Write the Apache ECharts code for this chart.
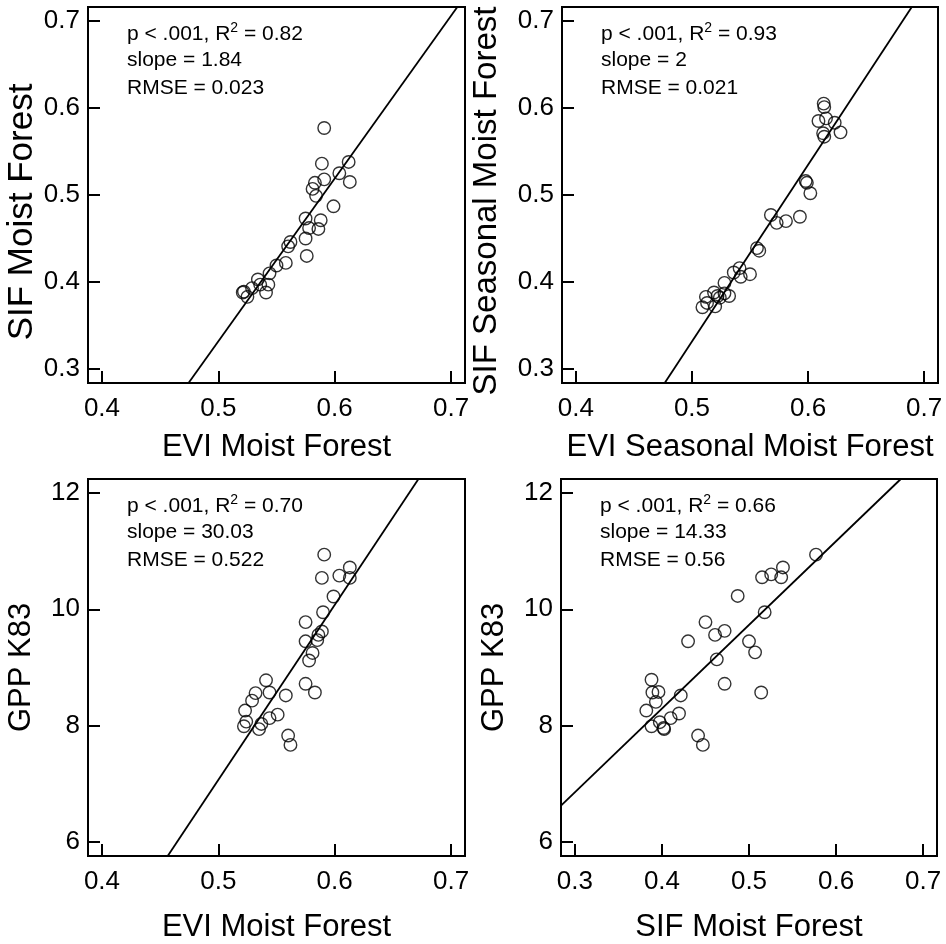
<!DOCTYPE html>
<html>
<head>
<meta charset="utf-8">
<title>SIF / EVI / GPP scatter panels</title>
<script src="https://cdn.jsdelivr.net/npm/echarts@6/dist/echarts.min.js"></script>
<style>
  html, body { margin: 0; padding: 0; background: #fff; }
  #main { width: 946px; height: 944px; }
</style>
</head>
<body>
<div id="main"></div>
<script>
// panel 1: EVI moist forest vs SIF moist forest
var evi1 = [0.591, 0.589, 0.612, 0.604, 0.613, 0.591, 0.583, 0.581, 0.584, 0.599, 0.575, 0.588, 0.578, 0.586, 0.575,
            0.576, 0.562, 0.560, 0.558, 0.550, 0.544, 0.543, 0.534, 0.536, 0.541, 0.529, 0.522, 0.521, 0.525];
var sif1 = [0.577, 0.536, 0.538, 0.525, 0.515, 0.518, 0.514, 0.507, 0.499, 0.487, 0.473, 0.471, 0.462, 0.461, 0.450,
            0.430, 0.446, 0.441, 0.422, 0.419, 0.410, 0.397, 0.403, 0.397, 0.388, 0.393, 0.389, 0.388, 0.383];
// panel 2: EVI seasonal moist forest vs SIF seasonal moist forest
var evi2 = [0.6135, 0.614, 0.609, 0.6155, 0.623, 0.628, 0.613, 0.614, 0.598, 0.599, 0.602, 0.593, 0.568, 0.573, 0.581, 0.556,
            0.558, 0.541, 0.536, 0.542, 0.550, 0.528, 0.528, 0.532, 0.522, 0.519, 0.512, 0.513, 0.509, 0.520, 0.524];
var sif2 = [0.605, 0.601, 0.585, 0.588, 0.583, 0.572, 0.571, 0.567, 0.516, 0.514, 0.502, 0.475, 0.477, 0.468, 0.470, 0.439,
            0.436, 0.416, 0.411, 0.406, 0.409, 0.399, 0.387, 0.384, 0.384, 0.388, 0.383, 0.376, 0.371, 0.372, 0.382];
// panel 3: EVI moist forest vs GPP K83
var evi3 = [0.591, 0.589, 0.604, 0.613, 0.613, 0.599, 0.590, 0.575, 0.589, 0.586, 0.575, 0.585, 0.581, 0.578, 0.575,
            0.583, 0.541, 0.532, 0.544, 0.558, 0.529, 0.523, 0.524, 0.522, 0.537, 0.535, 0.544, 0.551, 0.560, 0.562];
var gpp3 = [10.94, 10.54, 10.58, 10.72, 10.54, 10.22, 9.95, 9.78, 9.62, 9.56, 9.45, 9.47, 9.25, 9.12, 8.72,
            8.57, 8.78, 8.56, 8.57, 8.52, 8.43, 8.26, 8.07, 7.99, 8.03, 7.94, 8.13, 8.19, 7.83, 7.67];
// panel 4: SIF moist forest vs GPP K83
var sif4 = [0.577, 0.539, 0.537, 0.5255, 0.515, 0.487, 0.518, 0.450, 0.472, 0.461, 0.430, 0.500, 0.507, 0.463, 0.472,
            0.514, 0.388, 0.396, 0.389, 0.393, 0.4216, 0.382, 0.3975, 0.388, 0.4025, 0.402, 0.410, 0.4196, 0.4415, 0.447];
var gpp4 = [10.94, 10.72, 10.55, 10.60, 10.55, 10.23, 9.95, 9.78, 9.63, 9.56, 9.45, 9.45, 9.26, 9.14, 8.72,
            8.57, 8.79, 8.58, 8.57, 8.41, 8.52, 8.26, 8.06, 7.99, 7.94, 7.96, 8.13, 8.21, 7.83, 7.67];

// regression lines, end points where they meet the plot box
var fitX1 = [0.4744, 0.7054], fitY1 = [0.284, 0.716];
var fitX2 = [0.4765, 0.6894], fitY2 = [0.284, 0.716];
var fitX3 = [0.4565, 0.672],  fitY3 = [5.76, 12.24];
var fitX4 = [0.284, 0.6744],  fitY4 = [6.627, 12.24];

// tick labels
var ticksEvi = [0.4, 0.5, 0.6, 0.7];
var ticksSifX = [0.3, 0.4, 0.5, 0.6, 0.7];
var ticksSif = [0.3, 0.4, 0.5, 0.6, 0.7];
var ticksGpp = [6, 8, 10, 12];

// annotation stats
var statR2 = ['0.82', '0.93', '0.70', '0.66'];
var statSlope = ['1.84', '2', '30.03', '14.33'];
var statRmse = ['0.023', '0.021', '0.522', '0.56'];

var FONT = '"Liberation Sans", Arial, sans-serif';

var grids = [
  {left: 88, top: 7, width: 377, height: 376},
  {left: 562, top: 7, width: 376, height: 376},
  {left: 88, top: 479, width: 377, height: 378},
  {left: 561, top: 479, width: 376, height: 377}
];

function pairs(xs, ys) {
  var out = [];
  for (var i = 0; i < xs.length; i++) out.push([xs[i], ys[i]]);
  return out;
}

function oneDec(v) { return v.toFixed(1); }
function intLabel(v) { return String(Math.round(v)); }

function makeAxis(idx, min, max, ticks, fmt, name, nameGap, nameSize, padding, isX) {
  var ax = {
    type: 'value',
    gridIndex: idx,
    min: min,
    max: max,
    name: name,
    nameLocation: 'middle',
    nameGap: nameGap,
    nameTextStyle: {fontFamily: FONT, fontSize: nameSize, color: '#000', padding: padding || 0},
    axisLine: {show: true, onZero: false, lineStyle: {color: '#000', width: 2}},
    axisTick: {show: true, inside: true, length: 12, customValues: ticks, lineStyle: {color: '#000', width: 2}},
    axisLabel: {
      customValues: ticks,
      formatter: fmt,
      fontFamily: FONT,
      fontSize: 26,
      color: '#000',
      margin: isX ? 13 : 8
    },
    splitLine: {show: false}
  };
  return ax;
}

var chart = echarts.init(document.getElementById('main'), null, {renderer: 'canvas'});

var option = {
  animation: false,
  backgroundColor: '#fff',
  grid: grids.map(function (g) {
    return {left: g.left, top: g.top, width: g.width, height: g.height,
            show: true, borderColor: '#000', borderWidth: 2, backgroundColor: 'transparent'};
  }),
  xAxis: [
    makeAxis(0, 0.388, 0.712, ticksEvi, oneDec, 'EVI Moist Forest', 49, 31, 0, true),
    makeAxis(1, 0.388, 0.712, ticksEvi, oneDec, 'EVI Seasonal Moist Forest', 49, 31, 0, true),
    makeAxis(2, 0.388, 0.712, ticksEvi, oneDec, 'EVI Moist Forest', 56, 31, 0, true),
    makeAxis(3, 0.284, 0.716, ticksSifX, oneDec, 'SIF Moist Forest', 56, 31, 0, true)
  ],
  yAxis: [
    makeAxis(0, 0.284, 0.716, ticksSif, oneDec, 'SIF Moist Forest', 48, 35, [0, 34, 0, 0], false),
    makeAxis(1, 0.284, 0.716, ticksSif, oneDec, 'SIF Seasonal Moist Forest', 59, 33, [0, 12, 0, 0], false),
    makeAxis(2, 5.76, 12.24, ticksGpp, intLabel, 'GPP K83', 51, 31, 0, false),
    makeAxis(3, 5.76, 12.24, ticksGpp, intLabel, 'GPP K83', 51, 31, 0, false)
  ],
  series: [],
  graphic: []
};

var scatterSets = [pairs(evi1, sif1), pairs(evi2, sif2), pairs(evi3, gpp3), pairs(sif4, gpp4)];
var fitSets = [pairs(fitX1, fitY1), pairs(fitX2, fitY2), pairs(fitX3, fitY3), pairs(fitX4, fitY4)];

for (var i = 0; i < 4; i++) {
  option.series.push({
    type: 'line',
    xAxisIndex: i,
    yAxisIndex: i,
    data: fitSets[i],
    symbol: 'none',
    clip: true,
    silent: true,
    lineStyle: {color: '#000', width: 1.8}
  });
  option.series.push({
    type: 'scatter',
    xAxisIndex: i,
    yAxisIndex: i,
    data: scatterSets[i],
    symbol: 'circle',
    symbolSize: 12.5,
    silent: true,
    itemStyle: {color: 'rgba(0,0,0,0)', borderColor: '#000', borderWidth: 1.4}
  });

  // stats text in the top left corner of each panel
  var gx = grids[i].left + 39;
  var gy = grids[i].top;
  var lines = [
    '{a|p < .001, R}{s|2}{a| = ' + statR2[i] + '}',
    '{a|slope = ' + statSlope[i] + '}',
    '{a|RMSE = ' + statRmse[i] + '}'
  ];
  var offs = [26, 52, 80];
  for (var k = 0; k < 3; k++) {
    option.graphic.push({
      type: 'text',
      x: gx,
      y: gy + offs[k],
      silent: true,
      style: {
        text: lines[k],
        verticalAlign: 'middle',
        align: 'left',
        fill: '#000',
        rich: {
          a: {fontFamily: FONT, fontSize: 21, lineHeight: 24, color: '#000', verticalAlign: 'bottom'},
          s: {fontFamily: FONT, fontSize: 14, lineHeight: 24, color: '#000', verticalAlign: 'top', padding: [0, 0, 12, 0]}
        }
      }
    });
  }
}

chart.setOption(option);
</script>
</body>
</html>
